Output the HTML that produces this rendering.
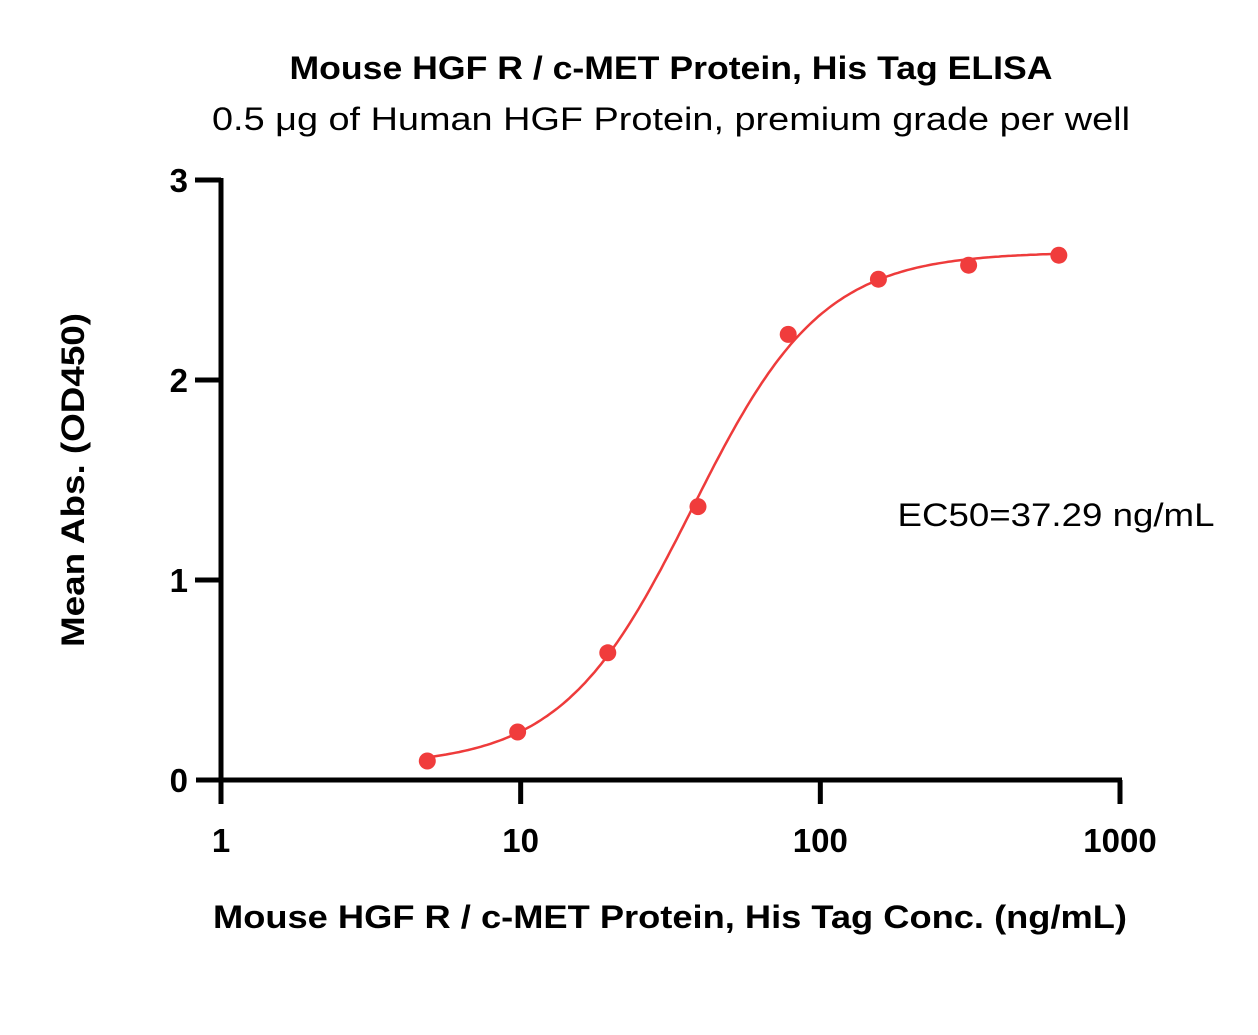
<!DOCTYPE html>
<html><head><meta charset="utf-8"><style>
html,body{margin:0;padding:0;background:#fff;}
svg{display:block;font-family:"Liberation Sans",sans-serif;}
</style></head><body>
<svg id="chart" width="1258" height="1035" viewBox="0 0 1258 1035">
<text x="671" y="79" text-anchor="middle" font-size="32" font-weight="bold" textLength="763" lengthAdjust="spacingAndGlyphs">Mouse HGF R / c-MET Protein, His Tag ELISA</text>
<text x="671" y="130" text-anchor="middle" font-size="32" textLength="918" lengthAdjust="spacingAndGlyphs">0.5 μg of Human HGF Protein, premium grade per well</text>
<text transform="translate(84,480) rotate(-90)" text-anchor="middle" font-size="32" font-weight="bold" textLength="334" lengthAdjust="spacingAndGlyphs">Mean Abs. (OD450)</text>
<text x="670" y="928" text-anchor="middle" font-size="32" font-weight="bold" textLength="914" lengthAdjust="spacingAndGlyphs">Mouse HGF R / c-MET Protein, His Tag Conc. (ng/mL)</text>
<text x="1056" y="526" text-anchor="middle" font-size="32" textLength="317" lengthAdjust="spacingAndGlyphs">EC50=37.29 ng/mL</text>
<g id="axes"></g>
<g id="marks"></g>
</svg>
<script>
const xTicks=[1,10,100,1000];
const xTickLabels=["1","10","100","1000"];
const yTicks=[0,1,2,3];
const yTickLabels=["0","1","2","3"];
const concentrations=[4.88,9.77,19.53,39.06,78.13,156.25,312.5,625];
const absorbance=[0.095,0.24,0.636,1.367,2.228,2.504,2.574,2.624];
const fitParams=[0.07,2.64,37.29,2.0]; // bottom, top, ec50, hill

const NS="http://www.w3.org/2000/svg";
const X0=221,X1=1120,Y0=780,Y1=180;
function xs(v){return X0+(Math.log10(v)-0)/3*(X1-X0);}
function ys(v){return Y0-(v/3)*(Y0-Y1);}
function mk(tag,attrs,parent){const e=document.createElementNS(NS,tag);for(const k in attrs)e.setAttribute(k,attrs[k]);parent.appendChild(e);return e;}
const axes=document.getElementById('axes'),marks=document.getElementById('marks');
let e=mk('line',{x1:X0,y1:Y1-2,x2:X0,y2:Y0+2,stroke:'#000','stroke-width':5},axes);


e=mk('line',{x1:196,y1:Y0,x2:X1+2,y2:Y0,stroke:'#000','stroke-width':5},axes);


yTicks.forEach((t,i)=>{
  const y=ys(t);
  if(t>0){const l=mk('line',{x1:195,y1:y,x2:X0,y2:y,stroke:'#000','stroke-width':5},axes);
  
  }
  const tx=mk('text',{x:188,y:y+12,'text-anchor':'end','font-size':33,'font-weight':'bold'},axes);
  tx.textContent=yTickLabels[i];
  
  
});
xTicks.forEach((t,i)=>{
  const x=xs(t);
  const l=mk('line',{x1:x,y1:Y0,x2:x,y2:804,stroke:'#000','stroke-width':5},axes);
  
  
  const tx=mk('text',{x:x,y:852,'text-anchor':'middle','font-size':33,'font-weight':'bold'},axes);
  tx.textContent=xTickLabels[i];
  
  
});
function fit(c){const [b,t,ec,h]=fitParams;return b+(t-b)/(1+Math.pow(ec/c,h));}
const lo=Math.log10(concentrations[0]),hi=Math.log10(concentrations[concentrations.length-1]);
let d='';
for(let i=0;i<=200;i++){const c=Math.pow(10,lo+(hi-lo)*i/200);d+=(i?'L':'M')+xs(c).toFixed(1)+','+ys(fit(c)).toFixed(1);}
const p=mk('path',{d:d,fill:'none',stroke:'#ee3b3b','stroke-width':2.5},marks);


concentrations.forEach((c,i)=>{
  const pt=mk('circle',{cx:xs(c),cy:ys(absorbance[i]),r:8.5,fill:'#f03c3c'},marks);
  
  
});
</script>
</body></html>
